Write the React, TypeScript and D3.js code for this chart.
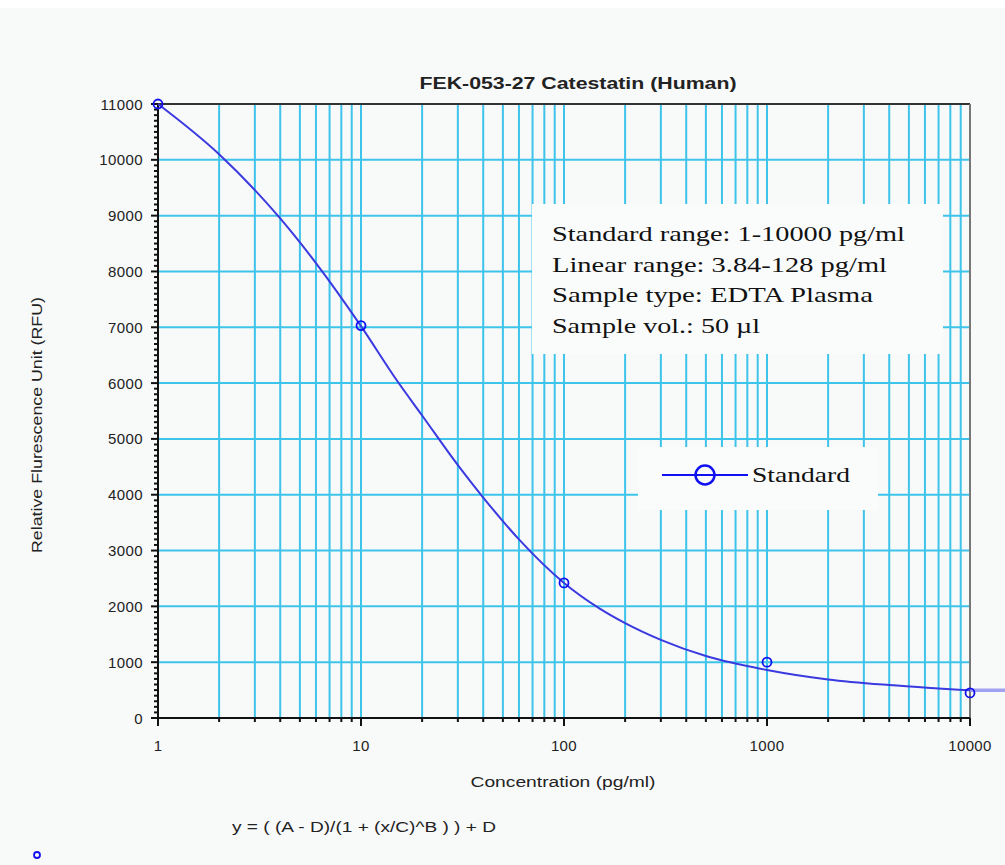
import React from "react";
import * as d3 from "d3";

const W = 1005;
const H = 865;

// Standard points (concentration pg/ml, RFU)
const stdConc = [1, 10, 100, 1000, 10000];
const stdRFU = [11000, 7030, 2420, 1000, 450];

// Fitted curve
const curveConc = [1, 2, 4, 6, 10, 15, 20, 30, 40, 60, 100, 150, 200, 300, 500, 1000, 2000, 4000, 7000, 10000];
const curveRFU = [11000, 10100, 8950, 8150, 7020, 6050, 5420, 4530, 3950, 3200, 2420, 1960, 1700, 1400, 1110, 860, 690, 590, 530, 495];

const yTicks = [0, 1000, 2000, 3000, 4000, 5000, 6000, 7000, 8000, 9000, 10000, 11000];
const xTicks = [1, 10, 100, 1000, 10000];

const title = "FEK-053-27 Catestatin (Human)";
const xLabel = "Concentration (pg/ml)";
const yLabel = "Relative Flurescence Unit (RFU)";
const formula = "y = ( (A - D)/(1 + (x/C)^B ) ) + D";
const infoLines = [
  "Standard range: 1-10000 pg/ml",
  "Linear range: 3.84-128 pg/ml",
  "Sample type: EDTA Plasma",
  "Sample vol.: 50 \u00b5l",
];
const infoWidths = [353, 335, 321, 208];
const legendLabel = "Standard";

const GRID = "#3ec4ea";
const CURVE = "#3a3ae0";
const PT = "#1010f0";

export default function App() {
  const x = d3.scaleLog().domain([1, 10000]).range([158, 970]);
  const y = d3.scaleLinear().domain([0, 11000]).range([718, 104]);

  const xGrid: number[] = [];
  for (const dec of [1, 10, 100, 1000]) {
    for (let k = 1; k <= 9; k++) xGrid.push(k * dec);
  }
  const xMinor = xGrid.filter((v) => !xTicks.includes(v));
  const yMinor = d3.range(0, 11001, 100).filter((v) => v % 1000 !== 0);

  const line = d3
    .line<number>()
    .x((_, i) => x(curveConc[i]))
    .y((d) => y(d))
    .curve(d3.curveMonotoneX);

  const axisFont = "'Liberation Sans', Arial, sans-serif";
  const serif = "'Liberation Serif', 'Times New Roman', serif";

  const lastY = y(curveRFU[curveRFU.length - 1]);

  return (
    <svg
      width={W}
      height={H}
      style={{ position: "absolute", left: 0, top: 0, display: "block" }}
    >
      <rect x={0} y={0} width={W} height={H} fill="#ffffff" />
      <rect x={0} y={8} width={W} height={H - 8} fill="#f8f9f9" />

      {/* grid */}
      <g stroke={GRID} strokeWidth={2}>
        {xGrid.map((v) => (
          <line key={"gx" + v} x1={x(v)} x2={x(v)} y1={y(11000)} y2={y(0)} />
        ))}
        {yTicks
          .filter((v) => v > 0 && v < 11000)
          .map((v) => (
            <line key={"gy" + v} x1={x(1)} x2={x(10000)} y1={y(v)} y2={y(v)} />
          ))}
      </g>

      {/* info box */}
      <rect x={532} y={204} width={411} height={150} fill="#fafbfb" />
      {infoLines.map((t, i) => (
        <text
          key={t}
          x={552}
          y={241 + i * 30.5}
          fontFamily={serif}
          fontSize={22}
          fill="#111"
          textLength={infoWidths[i]}
          lengthAdjust="spacingAndGlyphs"
        >
          {t}
        </text>
      ))}

      {/* legend box */}
      <rect x={638} y={447} width={240} height={63} fill="#fafbfb" />
      <line x1={662} x2={748} y1={475} y2={475} stroke={PT} strokeWidth={2} />
      <circle cx={705} cy={475} r={9.5} fill="none" stroke={PT} strokeWidth={2.5} />
      <text
        x={752}
        y={482}
        fontFamily={serif}
        fontSize={22}
        fill="#111"
        textLength={98}
        lengthAdjust="spacingAndGlyphs"
      >
        {legendLabel}
      </text>

      {/* frame */}
      <line x1={x(1)} x2={x(10000)} y1={y(11000)} y2={y(11000)} stroke="#333" strokeWidth={2} />
      <line x1={x(10000)} x2={x(10000)} y1={y(11000)} y2={y(0)} stroke="#777" strokeWidth={2} />
      <line x1={x(1)} x2={x(10000)} y1={y(0)} y2={y(0)} stroke="#111" strokeWidth={2} />
      <line x1={x(1)} x2={x(1)} y1={y(11000)} y2={y(0)} stroke="#111" strokeWidth={2} />

      {/* ticks */}
      <g stroke="#111" strokeWidth={2}>
        {yTicks.map((v) => (
          <line key={"yt" + v} x1={x(1) - 7} x2={x(1)} y1={y(v)} y2={y(v)} />
        ))}
        {yMinor.map((v) => (
          <line key={"ym" + v} x1={x(1) - 4} x2={x(1)} y1={y(v)} y2={y(v)} />
        ))}
        {xTicks.map((v) => (
          <line key={"xt" + v} x1={x(v)} x2={x(v)} y1={y(0)} y2={y(0) + 8} />
        ))}
        {xMinor.map((v) => (
          <line key={"xm" + v} x1={x(v)} x2={x(v)} y1={y(0)} y2={y(0) + 4} />
        ))}
      </g>

      {yTicks.map((v) => (
        <text
          key={"yl" + v}
          x={x(1) - 15}
          y={y(v) + 5.5}
          textAnchor="end"
          fontFamily={axisFont}
          fontSize={15}
          letterSpacing={0.4}
          fill="#222"
        >
          {v}
        </text>
      ))}
      {xTicks.map((v) => (
        <text
          key={"xl" + v}
          x={x(v)}
          y={751}
          textAnchor="middle"
          fontFamily={axisFont}
          fontSize={15}
          letterSpacing={0.4}
          fill="#222"
        >
          {v}
        </text>
      ))}

      {/* curve */}
      <path d={line(curveRFU) || ""} fill="none" stroke={CURVE} strokeWidth={2} />
      <line
        x1={x(10000)}
        x2={W}
        y1={lastY}
        y2={lastY}
        stroke="#8c8cf0"
        strokeWidth={3.5}
        opacity={0.8}
      />

      {/* points */}
      {stdConc.map((c, i) => (
        <circle
          key={"p" + c}
          cx={x(c)}
          cy={y(stdRFU[i])}
          r={4.5}
          fill="none"
          stroke={PT}
          strokeWidth={1.8}
        />
      ))}

      {/* titles */}
      <text
        x={578}
        y={89}
        textAnchor="middle"
        fontFamily={axisFont}
        fontWeight="bold"
        fontSize={16}
        fill="#222"
        textLength={317}
        lengthAdjust="spacingAndGlyphs"
      >
        {title}
      </text>
      <text
        x={563}
        y={787}
        textAnchor="middle"
        fontFamily={axisFont}
        fontSize={14}
        fill="#222"
        textLength={185}
        lengthAdjust="spacingAndGlyphs"
      >
        {xLabel}
      </text>
      <text
        transform="translate(42,425) rotate(-90)"
        textAnchor="middle"
        fontFamily={axisFont}
        fontSize={14}
        fill="#222"
        textLength={256}
        lengthAdjust="spacingAndGlyphs"
      >
        {yLabel}
      </text>
      <text
        x={232}
        y={832}
        fontFamily={axisFont}
        fontSize={14}
        fill="#222"
        textLength={264}
        lengthAdjust="spacingAndGlyphs"
      >
        {formula}
      </text>
      <circle cx={37} cy={855} r={3} fill="none" stroke={PT} strokeWidth={1.8} />
    </svg>
  );
}
